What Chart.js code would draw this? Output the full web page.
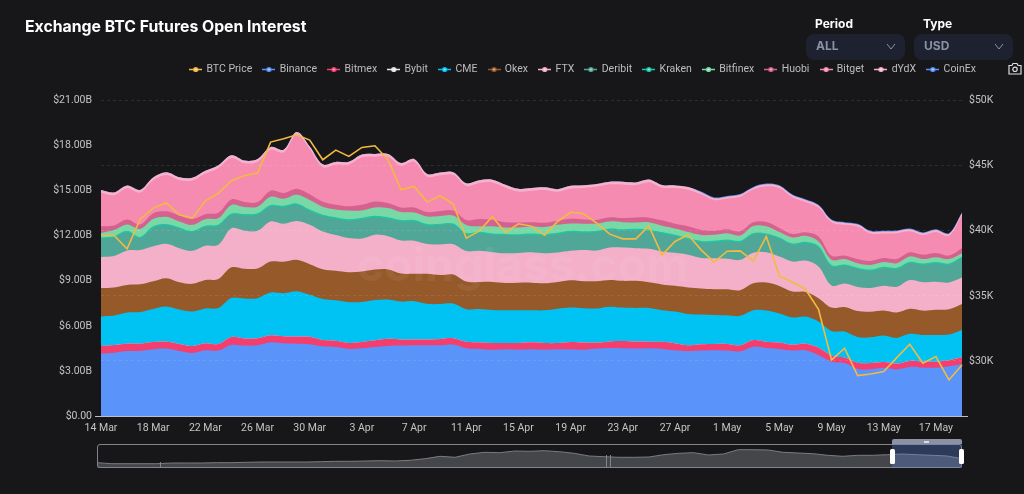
<!DOCTYPE html>
<html><head><meta charset="utf-8">
<script src="https://cdn.jsdelivr.net/npm/chart.js@4/dist/chart.umd.min.js"></script>
<style>
html,body{margin:0;padding:0;background:#17171a;width:1024px;height:494px;overflow:hidden;font-family:Inter,Roboto,sans-serif}
.a{position:absolute}
#main{position:absolute;left:0;top:0;width:1024px;height:494px}
#ov{position:absolute;left:97px;top:444px;width:865px;height:24px}
.lbl{font-weight:700;font-size:12px;color:#fff}
.sel{background:#1e2130;border-radius:8px;height:26px;width:99px;top:34px}
.sel span{position:absolute;left:10px;top:4px;font-weight:700;font-size:12px;color:#8a91a6}
.sel svg{position:absolute;right:9px;top:9px}
</style></head><body>
<canvas id="main" width="1024" height="494"></canvas>
<div class="a" style="left:25px;top:17px;font-size:15.8px;font-weight:700;color:#fff">Exchange BTC Futures Open Interest</div>
<div class="a lbl" style="left:815px;top:16px">Period</div>
<div class="a lbl" style="left:923px;top:16px">Type</div>
<div class="a sel" style="left:806px"><span>ALL</span><svg width="10" height="7" viewBox="0 0 10 7"><path d="M1 1l4 5 4-5" fill="none" stroke="#8a91a6"/></svg></div>
<div class="a sel" style="left:914px"><span>USD</span><svg width="10" height="7" viewBox="0 0 10 7"><path d="M1 1l4 5 4-5" fill="none" stroke="#8a91a6"/></svg></div>
<svg class="a" style="left:1008px;top:62px" width="14" height="13" viewBox="0 0 14 13"><path d="M1 3.5h3l1-2h4l1 2h3v8.5H1z" fill="none" stroke="#ddd" stroke-width="1.2"/><circle cx="7" cy="7.3" r="2.2" fill="none" stroke="#ddd" stroke-width="1.2"/></svg>
<div class="a" style="left:357px;top:236px;font-size:46px;font-weight:700;color:rgba(255,255,255,.06);letter-spacing:.2px">coinglass.com</div>

<canvas id="ov" width="865" height="24"></canvas>
<div class="a" style="left:97px;top:444px;width:865px;height:24px;box-sizing:border-box;border:1.3px solid #80848d;border-radius:3px"></div>
<div class="a" style="left:160px;top:462px;width:1px;height:6px;background:#80848d"></div>
<div class="a" style="left:606px;top:455px;width:1px;height:13px;background:#80848d"></div>
<div class="a" style="left:610px;top:455px;width:1px;height:13px;background:#80848d"></div>
<div class="a" style="left:892px;top:444px;width:70px;height:24px;background:rgba(100,140,235,.3)"></div>
<div class="a" style="left:892px;top:439px;width:70px;height:5px;background:#8c92a3;border-radius:2px 2px 0 0"></div>
<div class="a" style="left:924px;top:440.5px;width:5px;height:2px;background:#d8dbe3"></div>
<div class="a" style="left:890px;top:449px;width:5px;height:15px;background:#fff;border-radius:1.5px"></div>
<div class="a" style="left:959px;top:449px;width:5px;height:15px;background:#fff;border-radius:1.5px"></div>
<script>
const dates=["14 Mar","15 Mar","16 Mar","17 Mar","18 Mar","19 Mar","20 Mar","21 Mar","22 Mar","23 Mar","24 Mar","25 Mar","26 Mar","27 Mar","28 Mar","29 Mar","30 Mar","31 Mar","1 Apr","2 Apr","3 Apr","4 Apr","5 Apr","6 Apr","7 Apr","8 Apr","9 Apr","10 Apr","11 Apr","12 Apr","13 Apr","14 Apr","15 Apr","16 Apr","17 Apr","18 Apr","19 Apr","20 Apr","21 Apr","22 Apr","23 Apr","24 Apr","25 Apr","26 Apr","27 Apr","28 Apr","29 Apr","30 Apr","1 May","2 May","3 May","4 May","5 May","6 May","7 May","8 May","9 May","10 May","11 May","12 May","13 May","14 May","15 May","16 May","17 May","18 May","19 May"];
const btcPrice=[39641,39640,38616,40898,41744,42154,41231,40975,42308,42898,43846,44257,44436,46821,47077,47385,46975,45462,46205,45718,46410,46539,45462,43154,43411,42205,42693,42052,39436,40000,41077,39872,40539,40359,39667,40718,41436,41308,40590,39744,39385,39385,40385,38129,39180,39693,38539,37590,38436,38462,37667,39564,36539,36052,35513,33975,30078,30975,28872,29000,29180,30257,31282,29821,30333,28539,29693];
const binance=[4.16,4.22,4.33,4.33,4.44,4.49,4.33,4.20,4.38,4.36,4.73,4.69,4.71,4.91,4.84,4.82,4.78,4.64,4.60,4.47,4.51,4.60,4.67,4.69,4.71,4.71,4.71,4.76,4.51,4.47,4.42,4.44,4.42,4.44,4.42,4.44,4.44,4.42,4.49,4.53,4.51,4.49,4.51,4.47,4.38,4.33,4.36,4.38,4.36,4.31,4.62,4.53,4.47,4.36,4.38,4.07,3.62,3.53,3.13,3.11,3.22,3.11,3.27,3.22,3.22,3.31,3.47];
const bitmex=[.51,.51,.49,.49,.49,.47,.47,.47,.47,.44,.53,.47,.47,.47,.47,.47,.49,.42,.42,.40,.42,.44,.47,.40,.38,.38,.42,.42,.44,.44,.44,.42,.44,.47,.44,.42,.49,.47,.40,.44,.49,.47,.44,.47,.47,.38,.42,.42,.44,.40,.44,.42,.42,.38,.44,.49,.40,.36,.42,.42,.38,.38,.40,.40,.40,.40,.44];
const bybit=[0,0,0,0,0,0,0,0,0,0,0,0,0,0,0,0,0,0,0,0,0,0,0,0,0,0,0,0,0,0,0,0,0,0,0,0,0,0,0,0,0,0,0,0,0,0,0,0,0,0,0,0,0,0,0,0,0,0,0,0,0,0,0,0,0,0,0];
const cme=[1.96,1.96,2.07,2.11,2.20,2.33,2.29,2.29,2.31,2.40,2.60,2.67,2.67,2.84,2.87,3.02,2.80,2.73,2.69,2.71,2.67,2.69,2.62,2.53,2.56,2.38,2.33,2.31,2.16,2.22,2.20,2.18,2.18,2.13,2.18,2.29,2.29,2.29,2.27,2.31,2.22,2.24,2.24,2.11,2.11,2.09,1.98,1.93,1.91,1.96,1.98,2.07,1.93,1.82,1.80,1.73,1.64,1.73,1.71,1.71,1.76,1.71,1.80,1.78,1.78,1.71,1.82];
const okex=[1.89,1.87,1.84,1.84,1.84,1.89,1.82,1.84,1.89,1.93,2.04,1.98,1.98,2.07,2.09,2.09,2.04,1.98,1.96,2.00,2.02,2.02,2.00,1.87,1.82,2.00,1.93,1.93,1.84,1.80,1.87,1.82,1.84,1.84,1.80,1.78,1.82,1.80,1.82,1.78,1.78,1.80,1.71,1.71,1.71,1.76,1.73,1.71,1.73,1.71,1.80,1.87,1.84,1.73,1.64,1.56,1.56,1.64,1.73,1.71,1.67,1.69,1.67,1.62,1.67,1.69,1.73];
const ftx=[2.07,2.09,2.29,2.29,2.33,2.29,2.27,2.20,2.29,2.27,2.60,2.53,2.51,2.67,2.53,2.58,2.62,2.51,2.38,2.27,2.20,2.33,2.22,2.20,2.20,1.98,2.04,2.02,2.04,2.07,1.98,1.98,1.98,2.02,2.00,1.96,1.96,2.07,2.04,2.16,2.22,2.18,2.24,2.20,2.20,2.18,2.04,2.07,2.04,2.02,2.04,2.02,1.96,2.00,2.09,2.11,1.47,1.56,1.60,1.58,1.64,1.71,1.91,1.89,1.87,1.78,1.76];
const deribit=[1.22,1.24,1.22,.78,1.24,1.22,1.29,1.24,1.24,1.27,.89,1.02,1.07,1.00,1.11,1.09,.93,1.04,1.09,1.16,1.29,1.16,1.16,1.27,1.29,1.24,1.29,1.29,1.11,1.18,1.16,1.20,1.16,1.16,1.18,1.22,1.24,1.16,1.22,1.18,1.13,1.20,1.18,1.20,1.11,1.02,1.04,1.07,1.18,1.18,1.22,1.16,1.18,1.11,1.16,1.27,1.27,1.18,1.20,1.13,1.18,1.18,1.13,1.16,1.22,1.18,1.29];
const kraken=[.09,.09,.09,.09,.09,.09,.09,.09,.09,.09,.09,.09,.09,.09,.09,.09,.09,.09,.09,.09,.09,.09,.09,.09,.09,.09,.09,.09,.09,.09,.09,.09,.09,.09,.09,.09,.09,.09,.09,.09,.09,.09,.09,.09,.09,.09,.09,.09,.09,.09,.09,.09,.09,.09,.09,.09,.09,.09,.09,.09,.09,.09,.09,.09,.09,.09,.09];
const bitfinex=[.29,.40,.42,.53,.49,.49,.40,.40,.44,.42,.58,.47,.44,.56,.47,.58,.64,.53,.53,.58,.49,.56,.62,.53,.51,.51,.51,.53,.53,.36,.47,.42,.44,.47,.47,.53,.49,.51,.49,.47,.47,.42,.49,.42,.42,.40,.40,.40,.42,.36,.47,.47,.36,.40,.40,.31,.36,.36,.29,.31,.31,.31,.36,.29,.33,.29,.24];
const huobi=[.44,.31,.33,.29,.38,.36,.40,.40,.33,.36,.36,.33,.31,.40,.38,.40,.38,.33,.31,.29,.38,.40,.33,.31,.33,.29,.33,.33,.33,.49,.44,.36,.33,.29,.29,.27,.31,.27,.24,.27,.27,.33,.31,.36,.31,.38,.33,.27,.27,.27,.24,.29,.27,.24,.24,.33,.27,.24,.27,.27,.27,.27,.27,.29,.27,.24,.33];
const bitget=[2.24,2.02,2.09,2.13,2.20,2.42,2.36,2.56,2.71,2.98,2.76,2.58,2.69,2.73,2.71,3.60,3.00,2.31,2.67,2.78,3.16,2.98,3.09,2.78,3.04,2.36,2.38,2.38,2.27,2.40,2.49,2.31,2.07,2.09,2.18,1.93,2.02,2.11,2.22,2.20,2.24,2.16,2.36,2.18,2.38,2.44,2.38,2.04,2.04,2.31,2.18,2.38,2.67,2.44,2.02,1.93,2.22,2.04,2.18,1.82,1.64,1.73,1.40,1.31,1.40,1.31,2.20];
const dydx=[.18,.18,.18,.18,.18,.18,.18,.18,.18,.18,.18,.18,.18,.18,.18,.18,.18,.18,.18,.18,.18,.18,.18,.18,.18,.18,.18,.18,.18,.18,.18,.18,.18,.18,.18,.18,.18,.18,.18,.18,.18,.18,.18,.18,.18,.18,.13,.13,.13,.13,.13,.13,.13,.13,.13,.13,.13,.13,.13,.13,.13,.13,.13,.13,.13,.13,.13];
const coinex=[0,0,0,0,0,0,0,0,0,0,0,0,0,0,0,0,0,0,0,0,0,0,0,0,0,0,0,0,0,0,0,0,0,0,0,0,0,0,0,0,0,0,0,0,0,0,.05,.05,.05,.05,.05,.05,.05,.05,.05,.05,.05,.05,.05,.05,.05,.05,.05,.05,.05,.05,.05];
const leftTicks=[0,3,6,9,12,15,18,21];
const rightTicks=[30000,35000,40000,45000,50000];
const overview=[5.3,4.3,4.3,4.3,4.3,5,5,5,5.3,5.3,5.7,6,6,6,6,6.3,6.7,6.7,7,7.3,7,7.7,9.3,11.7,10.7,14,15.7,15.3,17,16.7,17.3,16.3,14.7,12,11.3,10.7,10.7,11,13.3,14.7,15.3,13,14,18.3,18.3,18,15.7,15,14.3,12.7,11.7,12.7,12.7,13.3,14,13.3,12.7,12,9.3];

const layers=[
 ["Binance",binance,"#5a93fa"],["Bitmex",bitmex,"#f43f6e"],["Bybit",bybit,"#e8e8e8"],["CME",cme,"#00c2f3"],
 ["Okex",okex,"#95592a"],["FTX",ftx,"#f4b0c9"],["Deribit",deribit,"#51a797"],["Kraken",kraken,"#1cc7a4"],
 ["Bitfinex",bitfinex,"#78d9a6"],["Huobi",huobi,"#d5618f"],["Bitget",bitget,"#f68bb1"],["dYdX",dydx,"#f6b2cc"],["CoinEx",coinex,"#5a93fa"]];
function marker(c){const m=document.createElement('canvas');m.width=13;m.height=7;const x=m.getContext('2d');
 x.strokeStyle=c;x.lineWidth=1.5;x.beginPath();x.moveTo(0,3.5);x.lineTo(13,3.5);x.stroke();
 x.fillStyle=c;x.beginPath();x.arc(6.5,3.5,2.6,0,7);x.fill();x.fillStyle='rgba(255,255,255,.7)';x.beginPath();x.arc(6.5,3.5,1.1,0,7);x.fill();return m;}
const grow={id:'legendGap',afterInit(c){const f=c.legend.fit;c.legend.fit=function(){f.call(this);this.height+=16;};},
 afterLayout(c){c.legend.left=179;}};
const PRICE_MIN=25769;
Chart.defaults.font.family="Roboto,Inter,sans-serif";
new Chart(document.getElementById('main'),{type:'line',plugins:[grow],
 data:{labels:dates,datasets:[
  {label:"BTC Price",data:btcPrice,yAxisID:'y1',borderColor:"#f3ba3f",borderWidth:1.6,pointRadius:0,tension:0,fill:false,order:0,pointStyle:marker("#f3ba3f"),stack:'p'},
  ...layers.map(l=>({label:l[0],data:l[1],yAxisID:'y',backgroundColor:l[2],borderColor:l[2],borderWidth:0,pointRadius:0,tension:.35,fill:'origin',order:1,pointStyle:marker(l[2]),stack:'oi'}))]},
 options:{responsive:false,animation:false,events:[],
  layout:{padding:{top:53,right:14,bottom:54,left:0}},
  plugins:{tooltip:{enabled:false},
   legend:{position:'top',align:'start',labels:{usePointStyle:true,pointStyleWidth:11,boxHeight:7,color:'#bdbdbd',font:{size:10.5},padding:11.2}}},
  scales:{
   x:{grid:{display:false,drawTicks:false},border:{color:'#b9bec9'},afterFit(s){s.height=24;},
      ticks:{autoSkip:false,maxRotation:0,color:'#c4c4c4',font:{size:10.5},padding:6,callback(v,i){return i%4===0?dates[i]:null;}}},
   y:{stacked:true,position:'left',min:0,max:21,afterFit(s){s.width=101;},afterBuildTicks(s){s.ticks=leftTicks.map(v=>({value:v}));},
      grid:{drawOnChartArea:false,tickLength:6,tickColor:c=>c.tick.value===0?'#b9bec9':'transparent'},border:{display:false},
      ticks:{color:'#c4c4c4',font:{size:10.5},padding:3,callback:v=>v===0?'$0.00':'$'+v.toFixed(2)+'B'}},
   y1:{position:'right',min:PRICE_MIN,max:50000,afterFit(s){s.width=48;},afterBuildTicks(s){s.ticks=[{value:PRICE_MIN},...rightTicks.map(v=>({value:v}))];},
      grid:{z:1,color:c=>c.tick.value===PRICE_MIN?'transparent':'rgba(255,255,255,.1)',tickLength:6,tickColor:c=>c.tick.value===PRICE_MIN?'#b9bec9':'transparent'},border:{display:false,dash:[3,3]},
      ticks:{color:'#c4c4c4',font:{size:10.5},padding:1,callback:v=>v===PRICE_MIN?'':'$'+(v/1000)+'K'}}
  }}});
new Chart(document.getElementById('ov'),{type:'line',
 data:{labels:overview.map((_,i)=>i),datasets:[{data:overview,borderColor:'#7b7c80',borderWidth:1,backgroundColor:'#45464a',fill:'origin',pointRadius:0,tension:0}]},
 options:{responsive:false,animation:false,events:[],plugins:{legend:{display:false},tooltip:{enabled:false}},
  scales:{x:{display:false},y:{display:false,min:0,max:24}}}});
</script></body></html>
